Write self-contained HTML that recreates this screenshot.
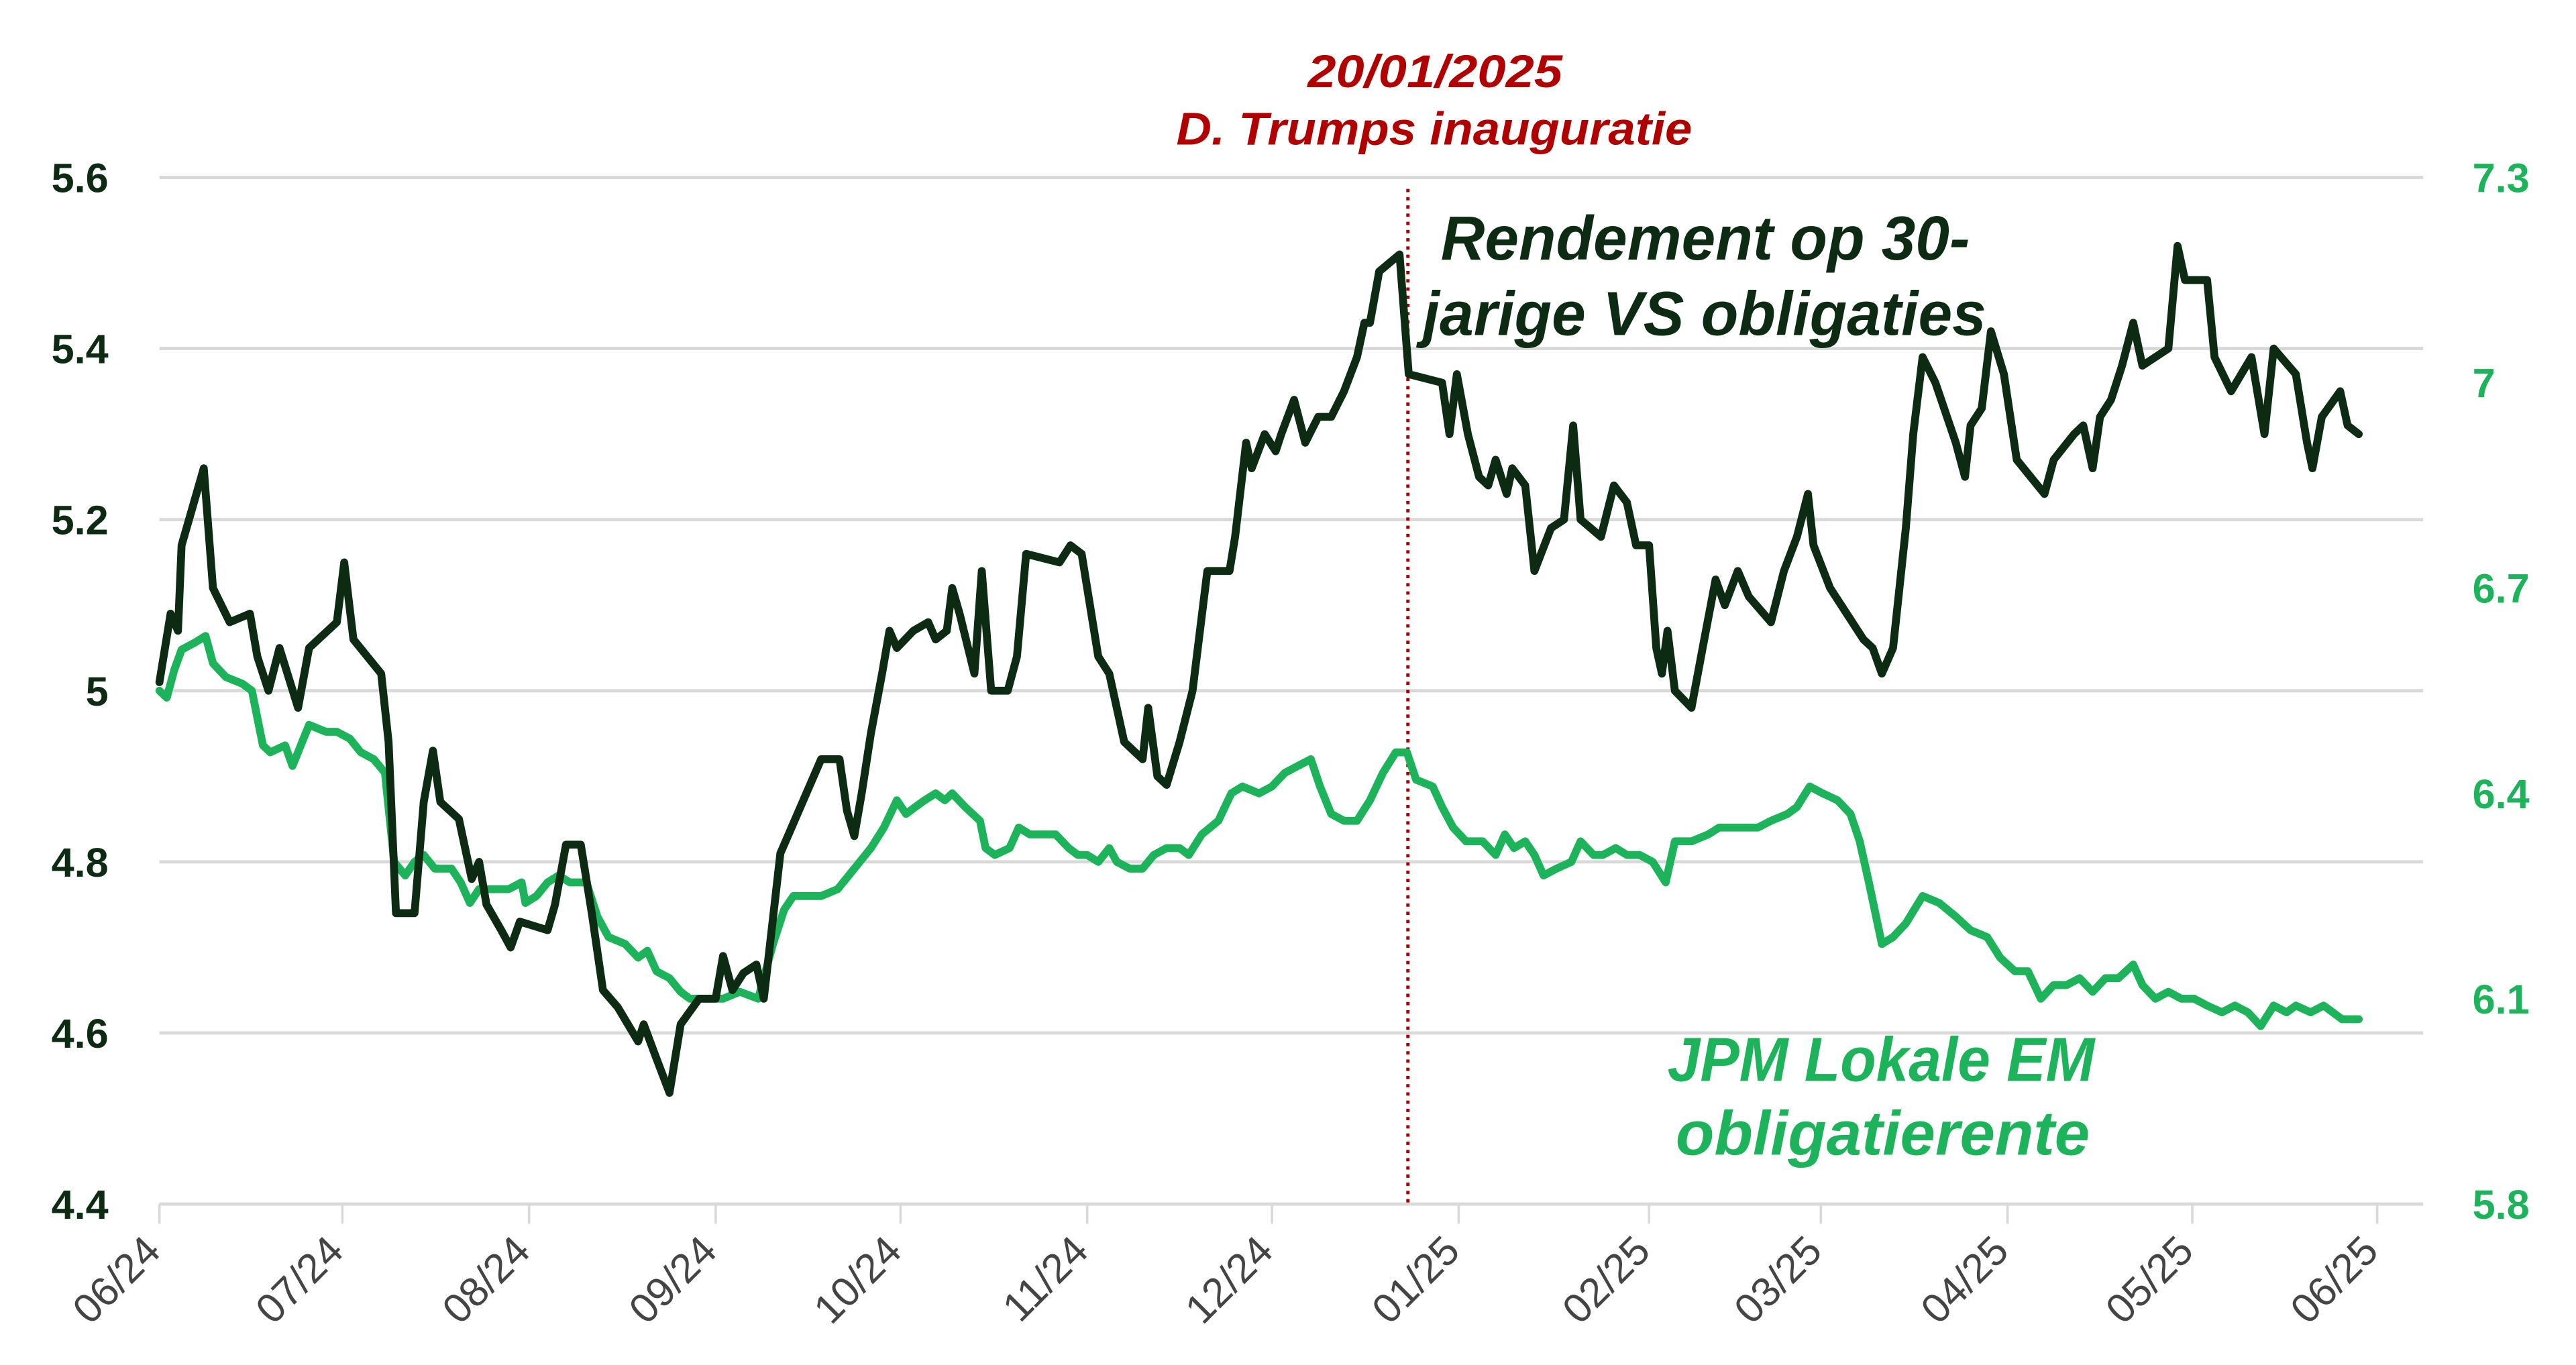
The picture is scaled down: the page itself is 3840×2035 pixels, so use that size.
<!DOCTYPE html>
<html><head><meta charset="utf-8"><style>
html,body{margin:0;padding:0;background:#fff;}
svg{display:block;}
</style></head><body>
<svg id="chart" xmlns="http://www.w3.org/2000/svg" width="3840" height="2035" viewBox="0 0 1568 831">
<g id="grid"></g>
<g id="xaxis"></g>
<g id="yleft"></g>
<g id="yright"></g>
<line x1="857" y1="115" x2="857" y2="733" stroke="#a00000" stroke-width="2" stroke-dasharray="2,3"/>
<g id="series"></g>
<g font-family="'Liberation Sans', sans-serif" font-weight="bold" font-style="italic">
<text x="796" y="53" fill="#b00000" font-size="28" textLength="155" lengthAdjust="spacingAndGlyphs">20/01/2025</text>
<text x="716" y="88" fill="#b00000" font-size="28" textLength="314" lengthAdjust="spacingAndGlyphs">D. Trumps inauguratie</text>
<text x="877" y="158" fill="#0d2b12" font-size="38" textLength="322" lengthAdjust="spacingAndGlyphs">Rendement op 30-</text>
<text x="866" y="204" fill="#0d2b12" font-size="38" textLength="343" lengthAdjust="spacingAndGlyphs">jarige VS obligaties</text>
<text x="1015" y="658" fill="#1db35a" font-size="38" textLength="260" lengthAdjust="spacingAndGlyphs">JPM Lokale EM</text>
<text x="1020" y="703" fill="#1db35a" font-size="38" textLength="252" lengthAdjust="spacingAndGlyphs">obligatierente</text>
</g>
</svg>
<script>
const xTickLabels = ["06/24","07/24","08/24","09/24","10/24","11/24","12/24","01/25","02/25","03/25","04/25","05/25","06/25"];
const xTickMonths = [0,0.99,2.00,3.01,4.01,5.02,6.02,7.03,8.06,8.99,10.00,11.00,12.00];
const leftTicks = [4.4,4.6,4.8,5.0,5.2,5.4,5.6];
const leftTickLabels = ["4.4","4.6","4.8","5","5.2","5.4","5.6"];
const rightTicks = [5.8,6.1,6.4,6.7,7.0,7.3];
const rightTickLabels = ["5.8","6.1","6.4","6.7","7","7.3"];
const usMonths = [0,.06,.10,.12,.24,.29,.38,.49,.53,.59,.65,.75,.81,.96,1.00,1.05,1.20,1.24,1.28,1.38,1.43,1.48,1.52,1.62,1.69,1.73,1.77,1.85,1.90,1.95,2.10,2.14,2.20,2.28,2.34,2.40,2.48,2.59,2.62,2.69,2.76,2.82,2.92,3.01,3.05,3.10,3.16,3.23,3.27,3.36,3.46,3.58,3.68,3.72,3.76,3.80,3.85,3.91,3.95,3.99,4.08,4.16,4.20,4.26,4.29,4.33,4.41,4.45,4.50,4.59,4.64,4.69,4.87,4.93,4.99,5.08,5.14,5.22,5.32,5.35,5.40,5.45,5.52,5.59,5.67,5.79,5.82,5.88,5.91,5.98,6.04,6.07,6.14,6.20,6.27,6.34,6.41,6.48,6.52,6.55,6.60,6.71,6.76,6.94,6.98,7.02,7.08,7.14,7.19,7.23,7.29,7.32,7.39,7.44,7.53,7.60,7.65,7.69,7.80,7.87,7.94,7.99,8.06,8.10,8.13,8.16,8.20,8.29,8.35,8.42,8.47,8.54,8.60,8.72,8.79,8.86,8.92,8.95,9.04,9.16,9.22,9.27,9.32,9.38,9.45,9.49,9.54,9.61,9.72,9.77,9.80,9.86,9.91,9.98,10.05,10.20,10.25,10.36,10.41,10.46,10.50,10.56,10.62,10.68,10.73,10.87,10.92,10.96,11.08,11.12,11.21,11.32,11.39,11.44,11.56,11.62,11.65,11.70,11.80,11.84,11.90];
const usYield = [5.01,5.09,5.07,5.17,5.26,5.12,5.08,5.09,5.04,5.00,5.05,4.98,5.05,5.08,5.15,5.06,5.02,4.94,4.74,4.74,4.87,4.93,4.87,4.85,4.78,4.80,4.75,4.72,4.70,4.73,4.72,4.75,4.82,4.82,4.74,4.65,4.63,4.59,4.61,4.57,4.53,4.61,4.64,4.64,4.69,4.65,4.67,4.68,4.64,4.81,4.86,4.92,4.92,4.86,4.83,4.88,4.95,5.02,5.07,5.05,5.07,5.08,5.06,5.07,5.12,5.09,5.02,5.14,5.00,5.00,5.04,5.16,5.15,5.17,5.16,5.04,5.02,4.94,4.92,4.98,4.90,4.89,4.94,5.00,5.14,5.14,5.18,5.29,5.26,5.30,5.28,5.30,5.34,5.29,5.32,5.32,5.35,5.39,5.43,5.43,5.49,5.51,5.37,5.36,5.30,5.37,5.30,5.25,5.24,5.27,5.23,5.26,5.24,5.14,5.19,5.20,5.31,5.20,5.18,5.24,5.22,5.17,5.17,5.05,5.02,5.07,5.00,4.98,5.05,5.13,5.10,5.14,5.11,5.08,5.14,5.18,5.23,5.17,5.12,5.08,5.06,5.05,5.02,5.05,5.19,5.30,5.39,5.36,5.29,5.25,5.31,5.33,5.42,5.37,5.27,5.23,5.27,5.30,5.31,5.26,5.32,5.34,5.38,5.43,5.38,5.40,5.52,5.48,5.48,5.39,5.35,5.39,5.30,5.40,5.37,5.29,5.26,5.32,5.35,5.31,5.30];
const emMonths = [0,.04,.08,.12,.19,.25,.29,.36,.45,.50,.56,.60,.68,.72,.81,.90,.96,1.03,1.09,1.16,1.22,1.27,1.33,1.38,1.43,1.49,1.58,1.63,1.68,1.73,1.80,1.89,1.96,1.98,2.04,2.10,2.16,2.22,2.31,2.37,2.43,2.52,2.59,2.64,2.69,2.76,2.82,2.87,2.96,3.05,3.14,3.24,3.32,3.38,3.43,3.51,3.58,3.67,3.76,3.85,3.92,3.99,4.04,4.09,4.14,4.20,4.25,4.29,4.36,4.44,4.47,4.52,4.60,4.65,4.71,4.77,4.85,4.92,4.97,5.02,5.08,5.14,5.18,5.25,5.32,5.38,5.45,5.52,5.57,5.64,5.73,5.80,5.86,5.95,6.02,6.09,6.16,6.23,6.28,6.34,6.41,6.48,6.55,6.62,6.69,6.75,6.80,6.89,6.94,7.00,7.07,7.16,7.23,7.28,7.33,7.39,7.44,7.49,7.56,7.64,7.69,7.76,7.81,7.88,7.94,8.01,8.08,8.15,8.20,8.29,8.38,8.44,8.51,8.58,8.65,8.72,8.81,8.86,8.93,9.00,9.08,9.15,9.20,9.25,9.32,9.38,9.45,9.54,9.63,9.72,9.80,9.89,9.96,10.04,10.11,10.18,10.25,10.32,10.39,10.46,10.53,10.60,10.68,10.73,10.80,10.87,10.94,11.01,11.08,11.16,11.23,11.30,11.37,11.44,11.51,11.56,11.64,11.71,11.76,11.81,11.87,11.90];
const emYield = [6.55,6.54,6.58,6.61,6.62,6.63,6.59,6.57,6.56,6.55,6.47,6.46,6.47,6.44,6.50,6.49,6.49,6.48,6.46,6.45,6.43,6.30,6.28,6.30,6.31,6.29,6.29,6.27,6.24,6.26,6.26,6.26,6.27,6.24,6.25,6.27,6.28,6.27,6.27,6.22,6.19,6.18,6.16,6.17,6.14,6.13,6.11,6.10,6.10,6.10,6.11,6.10,6.18,6.23,6.25,6.25,6.25,6.26,6.29,6.32,6.35,6.39,6.37,6.38,6.39,6.40,6.39,6.40,6.38,6.36,6.32,6.31,6.32,6.35,6.34,6.34,6.34,6.32,6.31,6.31,6.30,6.32,6.30,6.29,6.29,6.31,6.32,6.32,6.31,6.34,6.36,6.40,6.41,6.40,6.41,6.43,6.44,6.45,6.41,6.37,6.36,6.36,6.39,6.43,6.46,6.46,6.42,6.41,6.38,6.35,6.33,6.33,6.31,6.34,6.32,6.33,6.31,6.28,6.29,6.30,6.33,6.31,6.31,6.32,6.31,6.31,6.30,6.27,6.33,6.33,6.34,6.35,6.35,6.35,6.35,6.36,6.37,6.38,6.41,6.40,6.39,6.37,6.33,6.27,6.18,6.19,6.21,6.25,6.24,6.22,6.20,6.19,6.16,6.14,6.14,6.10,6.12,6.12,6.13,6.11,6.13,6.13,6.15,6.12,6.10,6.11,6.10,6.10,6.09,6.08,6.09,6.08,6.06,6.09,6.08,6.09,6.08,6.09,6.08,6.07,6.07,6.07];

const NS = "http://www.w3.org/2000/svg";
const X0 = 97, X1 = 1447, YT = 108, YB = 733, PR = 1475;
const xScale = m => X0 + m / 12 * (X1 - X0);
const yLeft = v => YB - (v - 4.4) / (5.6 - 4.4) * (YB - YT);
const yRight = v => YB - (v - 5.8) / (7.3 - 5.8) * (YB - YT);
function mk(tag, attrs, parent) {
  const e = document.createElementNS(NS, tag);
  for (const k in attrs) e.setAttribute(k, attrs[k]);
  parent.appendChild(e);
  return e;
}
const grid = document.getElementById('grid');
const yl = document.getElementById('yleft');
const yr = document.getElementById('yright');
const xa = document.getElementById('xaxis');
const ser = document.getElementById('series');
const FONT = "'Liberation Sans', sans-serif";
leftTicks.forEach((v, i) => {
  const y = yLeft(v);
  const g = mk('line', {x1: X0, x2: PR, y1: y, y2: y, stroke: '#d9d9d9', 'stroke-width': 2}, grid);
  
  
  const t = mk('text', {x: 66, y: y + 9, 'text-anchor': 'end', fill: '#0d2b12', 'font-size': 25, 'font-weight': 'bold', 'font-family': FONT}, yl);
  t.textContent = leftTickLabels[i];
  
  
});
rightTicks.forEach((v, i) => {
  const y = yRight(v);
  const t = mk('text', {x: 1505, y: y + 9, fill: '#1db35a', 'font-size': 25, 'font-weight': 'bold', 'font-family': FONT}, yr);
  t.textContent = rightTickLabels[i];
  
  
});
xTickMonths.forEach((m, i) => {
  const x = xScale(m);
  const tk = mk('line', {x1: x, x2: x, y1: YB, y2: YB + 12, stroke: '#d9d9d9', 'stroke-width': 1.5}, xa);
  
  
  const t = mk('text', {x: x + 2, y: YB + 30, 'text-anchor': 'end', fill: '#444', 'font-size': 25, 'font-family': FONT, transform: `rotate(-45 ${x + 2} ${YB + 30})`}, xa);
  t.textContent = xTickLabels[i];
  
  
});
function line(xs, vs, ys, color, name) {
  const d = xs.map((m, i) => (i ? 'L' : 'M') + xScale(m).toFixed(1) + ',' + ys(vs[i]).toFixed(1)).join('');
  const p = mk('path', {d: d, fill: 'none', stroke: color, 'stroke-width': 4.8, 'stroke-linejoin': 'round', 'stroke-linecap': 'round'}, ser);
  
  
}
line(emMonths, emYield, yRight, '#1db35a', 'em-yield-line');
line(usMonths, usYield, yLeft, '#0d2b12', 'us-30y-yield-line');
</script>
</body></html>
